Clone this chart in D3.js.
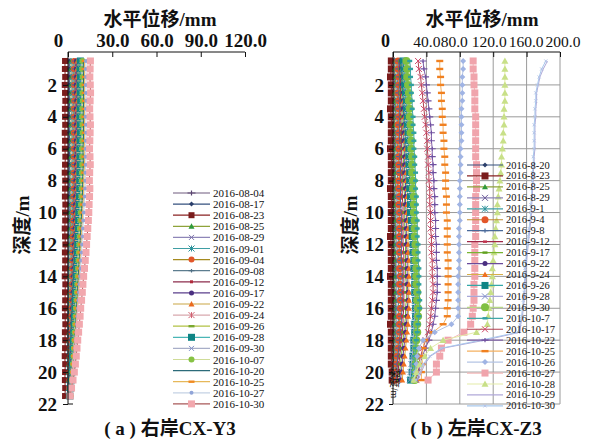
<!DOCTYPE html>
<html><head><meta charset="utf-8">
<script src="https://cdn.jsdelivr.net/npm/d3@7"></script>
<style>body{margin:0;background:#fff}svg{display:block}text{font-family:"Liberation Serif","Noto Sans CJK SC",serif;fill:#111}</style>
</head><body><svg id="c" width="590" height="441"></svg>
<script>
// ---------- DATA ----------
const depthL=[0.5,1,1.5,2,2.5,3,3.5,4,4.5,5,5.5,6,6.5,7,7.5,8,8.5,9,9.5,10,10.5,11,11.5,12,12.5,13,13.5,14,14.5,15,15.5,16,16.5,17,17.5,18,18.5,19,19.5,20,20.5,21,21.5];
const datesL=["2016-08-04","2016-08-17","2016-08-23","2016-08-25","2016-08-29","2016-09-01","2016-09-04","2016-09-08","2016-09-12","2016-09-17","2016-09-22","2016-09-24","2016-09-26","2016-09-28","2016-09-30","2016-10-07","2016-10-20","2016-10-25","2016-10-27","2016-10-30"];
const sL01=[0.5,0.4,0.5,0.3,0.4,0.5,0.3,0.2,0.4,0.3,0.2,0.3,0.4,0.2,0.1,0.3,0.2,0.1,0.2,0.0,0.1,0.2,0.0,-0.1,0.1,0.0,-0.2,0.0,0.1,-0.1,0.0,-0.2,-0.1,0.0,-0.3,-0.1,-0.2,0.0,-0.1,-0.2,-0.1,0.0,-0.1];
const sL02=[1.2,1.1,1.3,1.0,1.2,1.1,0.9,1.0,1.2,1.1,1.0,0.9,1.1,1.0,0.8,0.9,1.0,0.8,0.7,0.9,0.8,0.7,0.6,0.8,0.6,0.5,0.7,0.5,0.4,0.6,0.5,0.4,0.3,0.5,0.3,0.2,0.4,0.2,0.1,0.3,0.2,0.1,0.0];
const sL03=[-2.0,-2.1,-1.9,-2.2,-2.0,-1.8,-2.1,-2.0,-1.9,-2.2,-2.0,-2.1,-1.8,-2.0,-2.2,-1.9,-2.0,-2.1,-1.8,-2.0,-1.9,-2.2,-2.0,-1.8,-2.1,-1.9,-2.0,-2.2,-1.8,-2.0,-1.9,-2.1,-2.0,-1.8,-2.1,-1.9,-2.0,-2.2,-1.9,-2.0,-2.1,-1.9,-2.0];
const sL04=[2.2,2.0,2.3,2.1,2.2,2.0,2.1,2.3,2.0,2.2,2.1,1.9,2.0,2.2,1.9,2.0,1.8,2.0,1.9,1.7,1.8,1.6,1.7,1.5,1.6,1.4,1.5,1.3,1.4,1.2,1.2,1.1,1.0,1.1,0.9,0.8,0.9,0.7,0.6,0.6,0.5,0.4,0.3];
const sL05=[3.0,2.8,3.1,2.9,3.0,3.2,2.9,2.8,3.0,3.1,2.9,2.8,3.0,2.7,2.9,2.8,2.6,2.7,2.5,2.6,2.4,2.3,2.4,2.2,2.1,2.0,2.1,1.9,1.8,1.7,1.7,1.6,1.5,1.4,1.3,1.2,1.1,1.0,0.9,0.8,0.7,0.5,0.4];
const sL06=[3.6,3.5,3.7,3.4,3.6,3.8,3.5,3.6,3.4,3.7,3.5,3.4,3.6,3.3,3.5,3.4,3.2,3.3,3.1,3.2,3.0,2.9,2.8,2.7,2.6,2.5,2.4,2.3,2.2,2.1,2.0,1.9,1.8,1.7,1.6,1.4,1.3,1.2,1.1,0.9,0.8,0.7,0.5];
const sL07=[4.2,4.0,4.3,4.1,4.4,4.2,4.0,4.1,4.3,4.0,4.1,3.9,4.0,4.2,3.9,3.8,3.9,3.7,3.8,3.6,3.5,3.4,3.3,3.2,3.0,2.9,2.8,2.7,2.5,2.4,2.3,2.2,2.0,1.9,1.8,1.6,1.5,1.4,1.2,1.1,1.0,0.8,0.6];
const sL08=[4.7,4.6,4.8,4.5,4.7,4.9,4.6,4.5,4.7,4.8,4.6,4.4,4.5,4.7,4.4,4.3,4.4,4.2,4.1,4.0,3.9,3.8,3.7,3.5,3.4,3.3,3.1,3.0,2.9,2.7,2.6,2.5,2.3,2.2,2.0,1.9,1.7,1.6,1.4,1.3,1.1,0.9,0.7];
const sL09=[5.3,5.1,5.4,5.2,5.3,5.5,5.2,5.1,5.3,5.4,5.2,5.0,5.1,5.3,5.0,4.9,5.0,4.8,4.7,4.6,4.5,4.3,4.2,4.0,3.9,3.7,3.6,3.4,3.3,3.1,3.0,2.8,2.7,2.5,2.3,2.2,2.0,1.8,1.7,1.5,1.3,1.1,0.8];
const sL10=[5.8,5.7,5.9,5.6,5.8,6.0,5.7,5.6,5.8,5.9,5.7,5.5,5.6,5.8,5.5,5.4,5.5,5.3,5.2,5.1,4.9,4.8,4.6,4.5,4.3,4.1,4.0,3.8,3.6,3.5,3.3,3.1,3.0,2.8,2.6,2.4,2.2,2.0,1.9,1.7,1.5,1.2,0.9];
const sL11=[6.4,6.2,6.5,6.3,6.4,6.6,6.3,6.2,6.4,6.5,6.3,6.1,6.2,6.4,6.1,6.0,6.1,5.9,5.8,5.6,5.5,5.3,5.1,5.0,4.8,4.6,4.4,4.2,4.0,3.9,3.7,3.5,3.3,3.1,2.9,2.7,2.5,2.3,2.1,1.9,1.6,1.3,1.0];
const sL12=[7.1,6.9,7.2,7.0,7.1,7.3,7.0,6.9,7.1,7.2,7.0,6.8,6.9,7.1,6.8,6.7,6.8,6.6,6.4,6.3,6.1,5.9,5.7,5.5,5.3,5.1,4.9,4.7,4.5,4.3,4.1,3.9,3.7,3.5,3.3,3.0,2.8,2.6,2.3,2.1,1.8,1.5,1.1];
const sL13=[7.7,7.5,7.8,7.6,7.7,7.9,7.6,7.5,7.7,7.8,7.6,7.4,7.5,7.7,7.4,7.3,7.4,7.1,7.0,6.8,6.6,6.4,6.2,6.0,5.8,5.6,5.4,5.1,4.9,4.7,4.5,4.3,4.0,3.8,3.6,3.3,3.1,2.8,2.6,2.3,2.0,1.6,1.2];
const sL14=[8.4,8.2,8.5,8.3,8.4,8.6,8.3,8.2,8.4,8.5,8.3,8.1,8.2,8.4,8.1,8.0,8.0,7.8,7.6,7.4,7.2,7.0,6.8,6.6,6.3,6.1,5.9,5.6,5.4,5.2,4.9,4.7,4.4,4.2,3.9,3.7,3.4,3.1,2.9,2.6,2.2,1.8,1.3];
const sL15=[9.1,8.9,9.2,9.0,9.1,9.3,9.0,8.9,9.1,9.2,9.0,8.8,8.9,9.0,8.8,8.6,8.7,8.4,8.2,8.0,7.8,7.6,7.3,7.1,6.8,6.6,6.3,6.1,5.8,5.6,5.3,5.0,4.8,4.5,4.2,4.0,3.7,3.4,3.1,2.8,2.4,2.0,1.4];
const sL16=[9.8,9.6,9.9,9.7,9.8,10.0,9.7,9.6,9.8,9.9,9.7,9.5,9.6,9.7,9.4,9.3,9.3,9.1,8.8,8.6,8.4,8.1,7.9,7.6,7.4,7.1,6.8,6.5,6.3,6.0,5.7,5.4,5.1,4.8,4.5,4.3,4.0,3.7,3.3,3.0,2.6,2.1,1.5];
const sL17=[10.5,10.3,10.6,10.4,10.5,10.7,10.4,10.3,10.5,10.6,10.4,10.2,10.3,10.4,10.1,10.0,9.9,9.7,9.5,9.2,9.0,8.7,8.4,8.2,7.9,7.6,7.3,7.0,6.7,6.4,6.1,5.8,5.5,5.2,4.9,4.6,4.2,3.9,3.6,3.2,2.8,2.3,1.6];
const sL18=[11.3,11.1,11.4,11.2,11.3,11.5,11.2,11.1,11.3,11.4,11.2,11.0,11.1,11.2,10.9,10.8,10.7,10.5,10.2,9.9,9.7,9.4,9.1,8.8,8.5,8.2,7.9,7.6,7.2,6.9,6.6,6.3,5.9,5.6,5.3,4.9,4.6,4.2,3.9,3.5,3.0,2.4,1.7];
const sL19=[12.2,12.0,12.3,12.1,12.2,12.4,12.1,12.0,12.2,12.3,12.1,11.9,12.0,12.1,11.8,11.7,11.6,11.3,11.0,10.7,10.4,10.1,9.8,9.5,9.2,8.8,8.5,8.2,7.8,7.5,7.1,6.8,6.4,6.1,5.7,5.3,5.0,4.6,4.2,3.8,3.3,2.6,1.8];
const sL20=[15.2,15.0,14.8,15.1,15.3,15.0,14.7,14.9,15.2,15.0,14.8,14.6,14.9,15.1,14.7,14.5,14.8,14.6,14.3,14.1,13.8,13.4,13.0,12.6,12.2,11.7,11.2,10.6,10.1,9.7,9.2,8.6,8.2,7.7,7.2,6.6,6.1,5.6,5.0,4.3,3.4,2.4,1.5];
const seriesL=[sL01,sL02,sL03,sL04,sL05,sL06,sL07,sL08,sL09,sL10,sL11,sL12,sL13,sL14,sL15,sL16,sL17,sL18,sL19,sL20];

const depthR=[0.5,1,1.5,2,2.5,3,3.5,4,4.5,5,5.5,6,6.5,7,7.5,8,8.5,9,9.5,10,10.5,11,11.5,12,12.5,13,13.5,14,14.5,15,15.5,16,16.5,17,17.5,18,18.5,19,19.5,20,20.5];
const datesR=["2016-8-20","2016-8-23","2016-8-25","2016-8-29","2016-9-1","2016-9-4","2016-9-8","2016-9-12","2016-9-17","2016-9-22","2016-9-24","2016-9-26","2016-9-28","2016-9-30","2016-10-7","2016-10-17","2016-10-22","2016-10-25","2016-10-26","2016-10-27","2016-10-28","2016-10-29","2016-10-30"];
const sR01=[1,1,2,1,1,2,1,1,2,1,1,2,1,1,2,1,1,2,1,1,2,1,1,2,1,1,2,1,1,2,1,1,2,1,1,1,0,1,0,0,0];
const sR02=[-2,-2,-3,-2,-2,-2,-3,-2,-2,-2,-2,-3,-2,-2,-2,-2,-3,-2,-2,-2,-2,-2,-3,-2,-2,-2,-2,-3,-2,-2,-2,-2,-2,-3,-2,-2,-2,-2,-2,-1,-1];
const sR03=[3,2,3,3,2,3,3,3,2,3,3,3,2,3,3,3,3,2,3,3,3,3,3,2,3,3,3,3,2,3,3,3,3,2,3,3,2,2,2,1,1];
const sR04=[4,4,5,4,4,5,4,4,5,4,4,5,4,4,5,5,4,4,5,4,5,4,5,4,5,5,4,5,4,5,5,4,5,4,4,4,3,3,2,2,1];
const sR05=[5,5,6,5,6,5,6,6,5,6,6,5,6,6,6,5,6,6,6,6,6,6,7,6,6,7,6,7,6,7,7,6,7,6,6,5,5,4,3,3,2];
const sR06=[6,6,7,7,6,7,7,7,6,7,7,7,7,7,8,7,7,8,7,8,8,8,8,8,8,9,8,9,8,9,9,9,8,8,8,7,6,5,4,4,3];
const sR07=[7,7,8,8,7,8,8,8,8,8,8,9,8,9,9,9,9,9,9,10,10,10,10,10,10,10,11,11,11,11,11,11,10,10,9,8,7,6,5,5,4];
const sR08=[8,8,9,9,9,9,10,9,10,10,10,10,10,11,11,11,11,11,12,12,12,12,12,12,13,13,13,13,13,13,13,13,12,12,11,10,9,8,7,6,5];
const sR09=[9,9,10,10,10,11,11,11,11,12,12,12,12,13,13,13,13,14,14,14,14,14,15,15,15,15,15,15,16,16,16,15,15,14,13,12,11,10,9,8,7];
const sR10=[10,10,11,11,12,12,12,13,13,13,13,14,14,14,14,15,15,15,15,16,16,16,16,16,17,17,17,17,17,18,18,17,17,16,15,14,13,12,11,10,9];
const sR11=[11,11,12,12,13,13,14,14,14,15,15,15,16,16,16,16,17,17,17,17,18,18,18,18,18,19,19,19,19,19,19,19,18,18,17,16,15,14,13,12,11];
const sR12=[12,13,14,14,15,16,16,17,17,18,18,19,19,19,20,20,20,21,21,21,22,23,23,24,24,25,25,26,26,26,27,27,27,26,26,25,25,24,24,23,21];
const sR13=[14,14,15,16,16,17,17,18,18,19,19,20,20,20,21,21,22,22,22,23,23,23,24,24,24,25,25,25,26,26,26,26,26,25,25,24,24,23,22,21,20];
const sR14=[16,17,17,18,19,19,20,20,21,21,22,22,23,23,23,24,24,25,25,25,26,26,26,27,27,27,28,28,28,29,29,30,30,29,29,28,28,28,27,27,26];
const sR15=[20,21,21,22,22,23,23,24,24,25,25,25,26,26,27,27,27,28,28,28,29,29,29,30,30,30,31,31,31,31,32,32,31,30,29,28,27,26,26,25,24];
const sR16=[30,31,33,34,35,36,37,38,39,40,41,41,42,42,43,43,44,44,44,45,45,45,46,46,46,47,47,47,48,48,47,46,45,44,42,39,36,33,31,30,28];
const sR17=[36,37,39,40,41,42,43,44,45,46,46,47,47,48,48,49,49,50,50,50,51,51,51,52,52,52,53,53,53,53,52,51,50,48,46,43,39,35,33,31,30];
const sR18=[56,56,57,57,58,58,59,59,60,60,61,61,62,62,63,63,63,64,64,64,65,65,65,65,65,66,66,66,66,66,66,65,65,60,48,38,36,35,35,34,34];
const sR19=[84,84,83,83,83,83,82,82,82,82,82,81,81,81,81,80,80,80,80,80,80,79,79,79,79,79,79,78,78,78,78,78,78,70,50,36,31,29,28,27,25];
const sR20=[96,96,97,97,98,98,98,99,99,99,99,99,99,100,100,100,100,99,99,99,99,99,99,98,98,98,98,98,97,97,97,96,95,93,85,66,58,56,52,52,42];
const sR21=[134,134,134,134,134,134,133,133,133,132,132,131,130,130,129,128,127,126,125,125,124,123,122,122,121,120,119,119,118,117,116,115,114,113,100,60,45,38,32,28,25];
const sR22=[185,180,176,174,172,172,171,171,170,170,170,170,169,169,168,168,167,167,166,166,165,164,163,162,161,160,159,159,158,158,157,156,155,153,152,110,60,45,38,34,30];
const sR23=[183,178,175,173,171,171,170,170,169,169,169,169,168,168,167,167,166,166,165,165,164,163,162,161,160,159,158,158,157,157,156,155,154,152,150,105,58,44,36,32,28];
const seriesR=[sR01,sR02,sR03,sR04,sR05,sR06,sR07,sR08,sR09,sR10,sR11,sR12,sR13,sR14,sR15,sR16,sR17,sR18,sR19,sR20,sR21,sR22,sR23];

const xTicksL=[0,30,60,90,120];
const xTicksR=[0,40,80,120,160,200];
const yTicks=[2,4,6,8,10,12,14,16,18,20,22];

// ---------- STYLES ----------
const styleL=[
{c:'#6f5a7e',m:'pl',mc:'#5a4470',s:8},{c:'#34507e',m:'di',mc:'#2b3f6b',s:5},{c:'#8a2222',m:'sq',mc:'#7a1c1c',s:6},
{c:'#8ea33a',m:'tr',mc:'#2f9a3a',s:6},{c:'#8e86b8',m:'x',mc:'#7a70a8',s:5},{c:'#3f9ea4',m:'st',mc:'#2a8f99',s:6},
{c:'#a58a1f',m:'ci',mc:'#e2562a',s:6},{c:'#5d7d8f',m:'pl',mc:'#4f6f84',s:6},{c:'#8c2d4c',m:'sq',mc:'#b02a3a',s:3},
{c:'#5b3f8c',m:'ci',mc:'#4a2f80',s:5},{c:'#c9a544',m:'tr',mc:'#ea6a1e',s:6},{c:'#d8a8ae',m:'st',mc:'#d06070',s:6},
{c:'#b2c244',m:'da',mc:'#7aa830',s:6},{c:'#4ab6b6',m:'sq',mc:'#0f8585',s:7},{c:'#a8aec8',m:'x',mc:'#7d8fc8',s:5},
{c:'#cfdc98',m:'ci',mc:'#86c244',s:6},{c:'#2c6b7a',m:'none',mc:'#2c6b7a',s:0},{c:'#e6b85a',m:'da',mc:'#f08a22',s:6},
{c:'#c4d2e4',m:'ci',mc:'#90a4d8',s:4},{c:'#a85858',m:'sq',mc:'#f2a8ae',s:7}];
const styleR=[
{c:'#34507e',m:'di',mc:'#2b3f6b',s:5},{c:'#8a2222',m:'sq',mc:'#7a1c1c',s:7},{c:'#8ea33a',m:'tr',mc:'#2f9a3a',s:6},
{c:'#8e86b8',m:'x',mc:'#6a5a98',s:6},{c:'#3f9ea4',m:'st',mc:'#2a8f99',s:6},{c:'#c08a30',m:'ci',mc:'#e2562a',s:7},
{c:'#4a6a9a',m:'pl',mc:'#4a6a9a',s:7},{c:'#a02848',m:'da',mc:'#c0304a',s:4},{c:'#78b432',m:'da',mc:'#60a020',s:5},
{c:'#6a4a9a',m:'ci',mc:'#4a2f80',s:5},{c:'#d8b048',m:'tr',mc:'#f07020',s:6},{c:'#34a8a8',m:'sq',mc:'#0f8585',s:7},
{c:'#a8a8d8',m:'x',mc:'#7d8fc8',s:6},{c:'#b8d888',m:'ci',mc:'#80c040',s:8},{c:'#40a8a8',m:'da',mc:'#30a0a0',s:5},
{c:'#b04050',m:'x',mc:'#d04868',s:6},{c:'#8060a8',m:'pl',mc:'#7050a0',s:7},{c:'#f4b060',m:'da',mc:'#f08020',s:7},
{c:'#b4c4e4',m:'di',mc:'#a0b4e4',s:6},{c:'#f4b8b8',m:'sq',mc:'#f0a4ac',s:7},{c:'#e4eca8',m:'tr',mc:'#c8e088',s:7},
{c:'#b0a8d8',m:'none',mc:'#b0a8d8',s:0},{c:'#a8c8ec',m:'x',mc:'#b4c4e8',s:3}];
// label offsets for the crowded right-hand top axis (reference places them edge to edge)
const labelShiftR={0:-8,40:0,80:-6,120:-4.5,160:-1,200:2.5};

// ---------- DRAW ----------
const svg=d3.select('#c');
const y=d3.scaleLinear().domain([0,22]).range([53,404]);
const xL=d3.scaleLinear().domain([0,120]).range([68,245]);
const xR=d3.scaleLinear().domain([0,200]).range([393,560]);

function marker(g,t,cx,cy,col,s){
  const h=s/2;
  switch(t){
    case 'sq': g.append('rect').attr('x',cx-h).attr('y',cy-h).attr('width',s).attr('height',s).attr('fill',col);break;
    case 'ci': g.append('circle').attr('cx',cx).attr('cy',cy).attr('r',h).attr('fill',col);break;
    case 'tr': g.append('path').attr('d',`M${cx},${cy-h}L${cx+h},${cy+h*0.8}L${cx-h},${cy+h*0.8}Z`).attr('fill',col);break;
    case 'di': g.append('path').attr('d',`M${cx},${cy-h}L${cx+h},${cy}L${cx},${cy+h}L${cx-h},${cy}Z`).attr('fill',col);break;
    case 'x': g.append('path').attr('d',`M${cx-h},${cy-h}L${cx+h},${cy+h}M${cx-h},${cy+h}L${cx+h},${cy-h}`).attr('stroke',col).attr('stroke-width',1);break;
    case 'st': g.append('path').attr('d',`M${cx-h},${cy-h}L${cx+h},${cy+h}M${cx-h},${cy+h}L${cx+h},${cy-h}M${cx},${cy-h}L${cx},${cy+h}`).attr('stroke',col).attr('stroke-width',1);break;
    case 'pl': g.append('path').attr('d',`M${cx-h},${cy}L${cx+h},${cy}M${cx},${cy-h*0.6}L${cx},${cy+h*0.6}`).attr('stroke',col).attr('stroke-width',1.2);break;
    case 'da': g.append('rect').attr('x',cx-h).attr('y',cy-1.2).attr('width',s).attr('height',2.4).attr('fill',col);break;
  }
}

function drawSeries(g,x,depth,series,styles){
  series.forEach((vals,i)=>{
    const st=styles[i];
    const pts=vals.map((v,j)=>[x(v),y(depth[j])]);
    g.append('path').attr('d',d3.line()(pts)).attr('fill','none').attr('stroke',st.c).attr('stroke-width',1);
    const mg=g.append('g');
    pts.forEach(p=>marker(mg,st.m,p[0],p[1],st.mc,st.s));
  });
}

function legend(g,dates,styles,x0,x1,tx,y0,dy,fs){
  dates.forEach((d,i)=>{
    const st=styles[i], yy=y0+i*dy;
    g.append('line').attr('x1',x0).attr('x2',x1).attr('y1',yy).attr('y2',yy).attr('stroke',st.c).attr('stroke-width',1.2);
    marker(g,st.m,(x0+x1)/2,yy,st.mc,st.s);
    g.append('text').attr('x',tx).attr('y',yy).attr('dominant-baseline','central').attr('font-size',fs).text(d);
  });
}

// ----- Left panel -----
const gL=svg.append('g');
drawSeries(gL.append('g'),xL,depthL,seriesL,styleL);
const axTopL=gL.append('g').attr('transform','translate(0,52)').call(d3.axisTop(xL).tickValues(xTicksL).tickSize(-5).tickPadding(10).tickFormat((d)=>d===0?'0':d3.format('.1f')(d)));
axTopL.selectAll('text').attr('font-size',19).attr('font-weight','bold').attr('y',-5).attr('dy',0);
axTopL.selectAll('.tick').filter(d=>d===0).select('text').attr('dx',-10);
axTopL.select('.domain').attr('d','M68,0H245').attr('stroke','#111');
axTopL.selectAll('line').attr('stroke','#111');
const axLeftL=gL.append('g').attr('transform','translate(68,0)').call(d3.axisLeft(y).tickValues(yTicks).tickSize(5).tickPadding(6).tickFormat(d3.format('d')));
axLeftL.selectAll('text').attr('font-size',19).attr('font-weight','bold');
axLeftL.select('.domain').attr('d','M0,52V404H5').attr('stroke','#111');
axLeftL.selectAll('line').attr('stroke','#111');
gL.append('text').attr('x',160).attr('y',26).attr('text-anchor','middle').attr('font-size',19).attr('font-weight','bold').text('水平位移/mm');
gL.append('text').attr('transform','translate(22,225) rotate(-90)').attr('text-anchor','middle').attr('dominant-baseline','central').attr('font-size',19).attr('font-weight','bold').text('深度/m');
legend(gL.append('g'),datesL,styleL,173,210,213,193,11.1,11);
gL.append('text').attr('x',170).attr('y',435).attr('text-anchor','middle').attr('font-size',19).attr('font-weight','bold').text('( a ) 右岸CX-Y3');

// ----- Right panel -----
const gR=svg.append('g');
const grid=gR.append('g').attr('stroke','#9a9a9a').attr('stroke-width',1);
xTicksR.filter(d=>d>0).forEach(t=>grid.append('line').attr('x1',xR(t)).attr('x2',xR(t)).attr('y1',52).attr('y2',404));
yTicks.forEach(t=>grid.append('line').attr('x1',393).attr('x2',560).attr('y1',y(t)).attr('y2',y(t)));
drawSeries(gR.append('g'),xR,depthR,seriesR,styleR);
legend(gR.append('g'),datesR,styleR,467,503,506,165,10.95,10.5);
const axTopR=gR.append('g').attr('transform','translate(0,52)').call(d3.axisTop(xR).tickValues(xTicksR).tickSize(-5).tickPadding(10).tickFormat((d)=>d===0?'0':d3.format('.1f')(d)));
axTopR.selectAll('text').attr('font-size',15.5).attr('y',-5).attr('dy',0).attr('dx',d=>labelShiftR[d]);
axTopR.selectAll('.tick').filter(d=>d===0).select('text').attr('font-size',18).attr('font-weight','bold');
axTopR.select('.domain').attr('d','M393,0H560').attr('stroke','#111');
axTopR.selectAll('line').attr('stroke','#111');
const axLeftR=gR.append('g').attr('transform','translate(393,0)').call(d3.axisLeft(y).tickValues(yTicks).tickSize(4).tickPadding(5).tickFormat(d3.format('d')));
axLeftR.selectAll('text').attr('font-size',19).attr('font-weight','bold');
axLeftR.select('.domain').attr('d','M0,52V404').attr('stroke','#111');
axLeftR.selectAll('line').attr('stroke','#111');
gR.append('text').attr('x',482).attr('y',26).attr('text-anchor','middle').attr('font-size',19).attr('font-weight','bold').text('水平位移/mm');
gR.append('text').attr('transform','translate(350,225) rotate(-90)').attr('text-anchor','middle').attr('dominant-baseline','central').attr('font-size',19).attr('font-weight','bold').text('深度/m');
gR.append('text').attr('transform','translate(394,383) rotate(90)').attr('text-anchor','middle').attr('dominant-baseline','central').attr('font-size',10).text('深度/m');
gR.append('text').attr('x',476).attr('y',435).attr('text-anchor','middle').attr('font-size',19).attr('font-weight','bold').text('( b ) 左岸CX-Z3');
</script></body></html>
